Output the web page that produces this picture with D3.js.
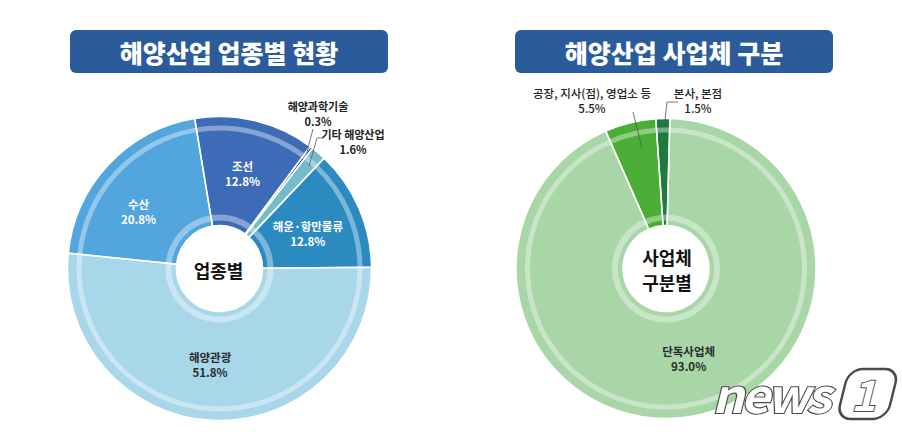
<!DOCTYPE html>
<html><head><meta charset="utf-8">
<script src="https://cdn.jsdelivr.net/npm/d3@7"></script>
<style>
body{margin:0;background:#fff;}
svg{display:block;}
text{font-family:"Noto Sans CJK KR","Noto Sans",sans-serif;}
</style>
</head><body>
<svg id="c" width="902" height="434"></svg>
<script>
// ---------- data ----------
const titles = ["해양산업 업종별 현황", "해양산업 사업체 구분"];
const industryCats = ["해양관광", "수산", "조선", "해양과학기술", "기타 해양산업", "해운·항만물류"];
const industryVals = [51.8, 20.8, 12.8, 0.3, 1.6, 12.8];
const industryCenter = ["업종별"];
const bizCats = ["단독사업체", "공장, 지사(점), 영업소 등", "본사, 본점"];
const bizVals = [93.0, 5.5, 1.5];
const bizCenter = ["사업체", "구분별"];

// ---------- styles ----------
const industryColors = ["#a8d7ea", "#52a5dd", "#3d6bb8", "#1c3782", "#72bccb", "#2b8bc1"];
const industryText = ["#2a2a2a", "#fff", "#fff", "#222", "#222", "#fff"];
const bizColors = ["#a9d6a6", "#4bae36", "#1e7a3e"];
const bizText = ["#2a2a2a", "#222", "#222"];

const svg = d3.select("#c");
const fmt = v => v.toFixed(1) + "%";
const rad = d => d * Math.PI / 180;

// multi-line text as one element with tspans
function multi(sel, x, y, lines, gap) {
  const t = sel.append("text").attr("text-anchor", "middle");
  lines.forEach((s, k) => {
    t.append("tspan").attr("x", x)
      .attr("y", y + (k - (lines.length - 1) / 2) * gap)
      .attr("dominant-baseline", "central").text(s);
  });
  return t;
}

// title boxes
[[70, titles[0]], [515, titles[1]]].forEach(([x, t]) => {
  svg.append("rect").attr("x", x).attr("y", 30).attr("width", 318).attr("height", 43)
    .attr("rx", 6).attr("fill", "#2b5b9b");
  svg.append("text").attr("x", x + 159).attr("y", 52).attr("text-anchor", "middle")
    .attr("dominant-baseline", "central").attr("fill", "#fff")
    .attr("font-size", 25).attr("font-weight", 900).text(t);
});

function donut(cfg) {
  const R = cfg.R, hole = 43;
  const g = svg.append("g").attr("transform", `translate(${cfg.cx},${cfg.cy})`);
  const pie = d3.pie().sort(null).value(d => d)
    .startAngle(rad(cfg.start)).endAngle(rad(cfg.start) + 2 * Math.PI);
  const arcs = pie(cfg.vals);
  const main = d3.arc().innerRadius(hole).outerRadius(R);
  const band = d3.arc().innerRadius(R - 14).outerRadius(R - 9);
  const ring = d3.arc().innerRadius(48).outerRadius(54);

  g.selectAll("path.s").data(arcs).join("path").attr("class", "s")
    .attr("d", main).attr("fill", (d, i) => cfg.colors[i]);
  g.selectAll("path.b").data(arcs).join("path").attr("class", "b")
    .attr("d", band).attr("fill", "#fff").attr("fill-opacity", 0.38);
  g.selectAll("path.r").data(arcs).join("path").attr("class", "r")
    .attr("d", ring).attr("fill", "#fff").attr("fill-opacity", 0.38);
  g.selectAll("path.o").data(arcs).join("path").attr("class", "o")
    .attr("d", main).attr("fill", "none").attr("stroke", "#fff").attr("stroke-width", 1.5);
  g.append("circle").attr("r", hole).attr("fill", "#fff");

  // center label
  multi(g, cfg.centerDx, 1, cfg.center, 24.5)
    .attr("font-size", 18).attr("font-weight", "bold").attr("fill", "#111");

  // inside labels
  arcs.forEach((a, i) => {
    const lp = cfg.inside[i];
    if (!lp) return;
    const ang = (a.startAngle + a.endAngle) / 2 + rad(lp.nudge || 0);
    const x = Math.sin(ang) * lp.r, y = -Math.cos(ang) * lp.r;
    multi(g, x, y, [cfg.cats[i], fmt(cfg.vals[i])], 15)
      .attr("font-size", 11.5).attr("font-weight", "bold").attr("fill", cfg.textColors[i]);
  });
  return {g, arcs};
}

// left donut
donut({
  cx: 219.5, cy: 268.5, R: 152, start: 89.5,
  vals: industryVals, cats: industryCats, colors: industryColors, textColors: industryText,
  center: industryCenter, centerDx: -1,
  inside: [{r: 96, nudge: 3}, {r: 99, nudge: -8}, {r: 98}, null, null, {r: 95, nudge: 2}]
});

// right donut
donut({
  cx: 666, cy: 268.5, R: 150, start: 1.5,
  vals: bizVals, cats: bizCats, colors: bizColors, textColors: bizText,
  center: bizCenter, centerDx: 1,
  inside: [{r: 93, nudge: -3}, null, null]
});

// outside labels
function outLabel(x, y, name, val, weight, size) {
  multi(svg, x, y + 7.25, [name, val], 14.5)
    .attr("font-size", size).attr("font-weight", weight).attr("fill", "#222");
}
function leader(pts) {
  svg.append("path").attr("d", d3.line()(pts)).attr("fill", "none")
    .attr("stroke", "#555").attr("stroke-width", 0.8);
}
outLabel(318, 106, industryCats[3], fmt(industryVals[3]), "bold", 11);
outLabel(353, 134, industryCats[4], fmt(industryVals[4]), "bold", 11);
leader([[313, 129], [307, 152]]);
leader([[324, 138], [317, 138], [309, 166]]);

outLabel(592, 93, bizCats[1], fmt(bizVals[1]), "500", 11.5);
outLabel(698, 93, bizCats[2], fmt(bizVals[2]), "500", 11.5);
leader([[633, 112], [642, 148]]);
leader([[678, 102], [667, 102], [665, 120]]);

// watermark
const wm = svg.append("g").attr("transform", "translate(712,413) skewX(-14)");
wm.append("text").attr("x", 0).attr("y", 0)
  .attr("font-family", "DejaVu Sans").attr("font-weight", "bold").attr("font-size", 46)
  .attr("letter-spacing", -3).attr("textLength", 116).attr("lengthAdjust", "spacingAndGlyphs")
  .attr("fill", "#fff").attr("stroke", "#4a4a4a").attr("stroke-width", 2.2)
  .attr("paint-order", "stroke").text("news");
wm.append("rect").attr("x", 126).attr("y", -44).attr("width", 50).attr("height", 50)
  .attr("rx", 14).attr("fill", "#fff").attr("stroke", "#4a4a4a").attr("stroke-width", 2.5);
wm.append("text").attr("x", 151).attr("y", -2).attr("text-anchor", "middle")
  .attr("font-family", "DejaVu Sans").attr("font-weight", "bold").attr("font-size", 42)
  .attr("fill", "#fff").attr("stroke", "#4a4a4a").attr("stroke-width", 2)
  .attr("paint-order", "stroke").text("1");
</script>
</body></html>
